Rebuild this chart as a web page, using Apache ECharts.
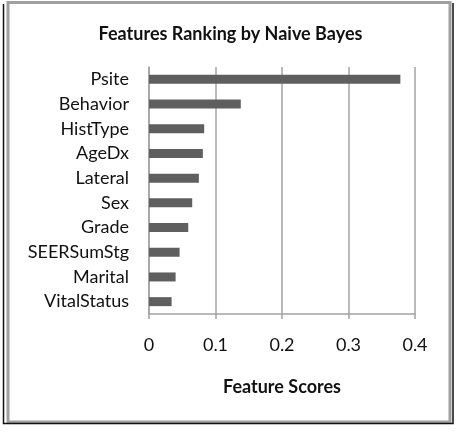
<!DOCTYPE html>
<html>
<head>
<meta charset="utf-8">
<script src="https://cdn.jsdelivr.net/npm/echarts@6/dist/echarts.min.js"></script>
<style>
  html, body { margin: 0; padding: 0; background: #fff; }
  #chart { width: 461px; height: 436px; }
</style>
</head>
<body>
<div id="chart"></div>
<script>
// features, top to bottom
const features = ['Psite', 'Behavior', 'HistType', 'AgeDx', 'Lateral', 'Sex', 'Grade', 'SEERSumStg', 'Marital', 'VitalStatus'];
const scores = [0.378, 0.138, 0.083, 0.081, 0.075, 0.065, 0.059, 0.046, 0.040, 0.034];
const xTicks = [0, 0.1, 0.2, 0.3, 0.4];

const font = 'Lato, "Open Sans", sans-serif';
const gridGray = '#a3a3a3';

const chart = echarts.init(document.getElementById('chart'), null, { renderer: 'canvas' });

const option = {
  backgroundColor: '#fff',
  animation: false,
  title: {
    text: 'Features Ranking by Naive Bayes',
    left: 'center',
    top: 20,
    textStyle: { fontFamily: font, fontSize: 18, fontWeight: 'bold', color: '#111' }
  },
  grid: { left: 149, right: 46, top: 67, bottom: 122 },
  xAxis: {
    type: 'value',
    min: xTicks[0],
    max: xTicks[xTicks.length - 1],
    interval: 0.1,
    name: 'Feature Scores',
    nameLocation: 'middle',
    nameGap: 64,
    nameTextStyle: { fontFamily: font, fontSize: 18, fontWeight: 'bold', color: '#111' },
    axisLine: { show: true, lineStyle: { color: gridGray, width: 1.5 } },
    axisTick: { show: true, length: 5, lineStyle: { color: gridGray, width: 1.5 } },
    splitLine: { show: true, lineStyle: { color: gridGray, width: 1.5 } },
    axisLabel: { fontFamily: font, fontSize: 18, color: '#111', margin: 22 }
  },
  yAxis: {
    type: 'category',
    data: features,
    inverse: true,
    axisLine: { show: true, lineStyle: { color: gridGray, width: 1.5 } },
    axisTick: { show: false },
    axisLabel: { fontFamily: font, fontSize: 18, color: '#111', margin: 20 }
  },
  series: [{
    type: 'bar',
    data: scores,
    barWidth: 9,
    itemStyle: { color: '#5f5f5f' }
  }],
  graphic: [
    { type: 'rect', shape: { x: 8, y: 2.5, width: 442, height: 419.5 }, style: { fill: 'none', stroke: '#a0a0a0', lineWidth: 3 }, z: 100 },
    { type: 'polyline', shape: { points: [[3.5, 4], [3.5, 423.5], [453, 423.5], [453, 3]] }, style: { fill: 'none', stroke: '#111', lineWidth: 1.5 }, z: 100 }
  ]
};

chart.setOption(option);
</script>
</body>
</html>
